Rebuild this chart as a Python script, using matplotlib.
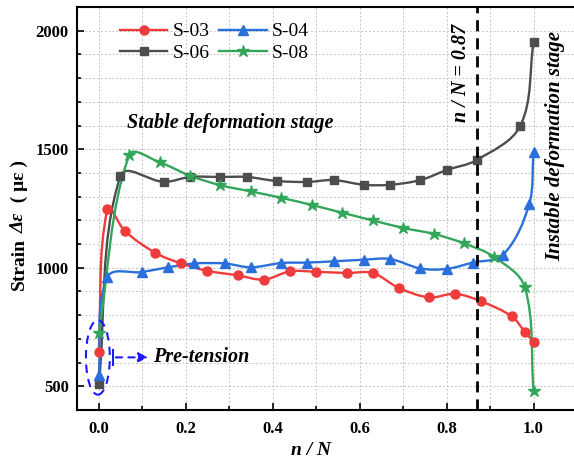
import numpy as np
import matplotlib
matplotlib.use("Agg")
import matplotlib.pyplot as plt
from matplotlib.patches import Ellipse, PathPatch
from matplotlib.path import Path
from matplotlib.lines import Line2D
from matplotlib.ticker import MultipleLocator

plt.rcParams['font.family'] = ['Liberation Serif', 'Noto Sans CJK SC']

# data
x03 = [0, 0.02, 0.06, 0.13, 0.19, 0.25, 0.32, 0.38, 0.44, 0.50, 0.57, 0.63, 0.69, 0.76, 0.82, 0.88, 0.95, 0.98, 1.0]
y03 = [645, 1248, 1155, 1063, 1018, 987, 968, 950, 985, 983, 978, 978, 915, 875, 890, 858, 795, 730, 688]

x04 = [0, 0.02, 0.10, 0.16, 0.22, 0.29, 0.35, 0.42, 0.48, 0.54, 0.61, 0.67, 0.74, 0.80, 0.86, 0.93, 0.99, 1.0]
y04 = [548, 960, 982, 1002, 1018, 1018, 1002, 1020, 1022, 1027, 1034, 1037, 997, 995, 1022, 1055, 1268, 1490]

x06 = [0, 0.05, 0.15, 0.21, 0.28, 0.34, 0.41, 0.48, 0.54, 0.61, 0.67, 0.74, 0.80, 0.87, 0.97, 1.0]
y06 = [508, 1388, 1362, 1383, 1383, 1383, 1366, 1362, 1370, 1350, 1350, 1370, 1412, 1455, 1600, 1952]

x08 = [0, 0.07, 0.14, 0.21, 0.28, 0.35, 0.42, 0.49, 0.56, 0.63, 0.70, 0.77, 0.84, 0.91, 0.98, 1.0]
y08 = [725, 1475, 1445, 1388, 1348, 1322, 1295, 1265, 1232, 1200, 1168, 1143, 1103, 1045, 918, 482]

n_crit = 0.87

fig = plt.figure(figsize=(5.74, 4.61), dpi=100)
ax = fig.add_axes([77 / 574, 51 / 461, 500 / 574, 403 / 461])
ax.set_xlim(-0.05, 1.1)
ax.set_ylim(400, 2100)


def smooth_curve(x, y, color):
    # Origin-like smooth line through the points (cubic bezier, built in pixel space)
    p = ax.transData.transform(np.column_stack([x, y]))
    n = len(p)
    tan = []
    for i in range(n):
        d = p[min(i + 1, n - 1)] - p[max(i - 1, 0)]
        tan.append(d / np.linalg.norm(d))
    verts = [p[0]]
    codes = [Path.MOVETO]
    for i in range(n - 1):
        L = np.linalg.norm(p[i + 1] - p[i]) / 3
        verts += [p[i] + tan[i] * L, p[i + 1] - tan[i + 1] * L, p[i + 1]]
        codes += [Path.CURVE4] * 3
    verts = ax.transData.inverted().transform(np.array(verts))
    ax.add_patch(PathPatch(Path(verts, codes), fill=False, ec=color, lw=1.7, zorder=3))


series = [
    (x03, y03, '#EF3B3B', 'o', 6.5, 'S-03'),
    (x06, y06, '#4D4D4D', 's', 5.5, 'S-06'),
    (x04, y04, '#2A6FDB', '^', 6.5, 'S-04'),
    (x08, y08, '#33A65C', '*', 9, 'S-08'),
]
handles = []
for x, y, c, m, ms, lab in series:
    smooth_curve(x, y, c)
    ax.plot(x, y, ls='none', color=c, marker=m, ms=ms, zorder=4)
    handles.append(Line2D([], [], color=c, lw=1.7, marker=m, ms=ms, label=lab))

ax.axvline(n_crit, color='black', lw=2, ls=(0, (4, 2.5)), zorder=5)

ax.xaxis.set_minor_locator(MultipleLocator(0.1))
ax.yaxis.set_major_locator(MultipleLocator(500))
ax.yaxis.set_minor_locator(MultipleLocator(100))
ax.set_xticks([0, 0.2, 0.4, 0.6, 0.8, 1.0])
ax.set_xticklabels(['0.0', '0.2', '0.4', '0.6', '0.8', '1.0'])
ax.tick_params(which='both', direction='in', width=1.2, labelsize=12, pad=6)
ax.tick_params(axis='x', pad=8)
ax.tick_params(which='major', length=5)
ax.tick_params(which='minor', length=3)
for lab in ax.get_xticklabels() + ax.get_yticklabels():
    lab.set_fontweight('bold')
for s in ax.spines.values():
    s.set_linewidth(1.5)

ax.grid(which='both', color='#c4c4c4', ls=(0, (2, 2)), lw=0.7, zorder=0)

ax.set_xlabel('n / N', fontsize=14, fontweight='bold', fontstyle='italic')
ax.xaxis.set_label_coords(0.468, -0.08)

ax.legend(handles=handles, loc='upper left', bbox_to_anchor=(0.07, 0.98), ncol=2,
          frameon=False, fontsize=14, handlelength=2.45, columnspacing=0.5,
          handletextpad=0.25, labelspacing=0.2, borderaxespad=0)

ax.text(0.065, 1612, 'Stable deformation stage', fontsize=14.5, fontweight='bold',
        fontstyle='italic', va='center', ha='left')
ax.text(0.833, 1823, 'n / N = 0.87', fontsize=14.5, fontweight='bold',
        fontstyle='italic', rotation=90, va='center', ha='center')
ax.text(1.05, 1515, 'Instable deformation stage', fontsize=15, fontweight='bold',
        fontstyle='italic', rotation=90, va='center', ha='center')

# pre-tension marker
blue = '#1a1aff'
ax.add_patch(Ellipse((-0.002, 622), 0.055, 315, fill=False, ec=blue,
                     lw=1.5, ls=(0, (4, 3)), zorder=6))
ax.plot([0.033, 0.033], [590, 655], color=blue, lw=1.5, zorder=6)
ax.annotate('', xy=(0.12, 622), xytext=(0.033, 622),
            arrowprops=dict(arrowstyle='-|>', color=blue, lw=1.5,
                            ls=(0, (3, 3)), mutation_scale=14), zorder=6)
ax.text(0.125, 622, 'Pre-tension', fontsize=14.5, fontweight='bold',
        fontstyle='italic', va='center', ha='left')

# y label built from pieces: bold "Strain", italic "Δε", then the unit
fig.canvas.draw()
r = fig.canvas.get_renderer()
H = fig.bbox.height
ypos = 171
pieces = [('Strain', 'normal', 5), ('Δε', 'italic', 1), ('  ( με )', 'normal', 0)]
for txt, style, gap in pieces:
    t = fig.text(24 / 574, ypos / H, txt, rotation=90, rotation_mode='anchor',
                 ha='left', va='baseline', fontsize=14, fontweight='bold',
                 fontstyle=style, family='Liberation Serif')
    bb = t.get_window_extent(r)
    ypos = bb.y1 + gap

fig.savefig('out.png', dpi=100)
